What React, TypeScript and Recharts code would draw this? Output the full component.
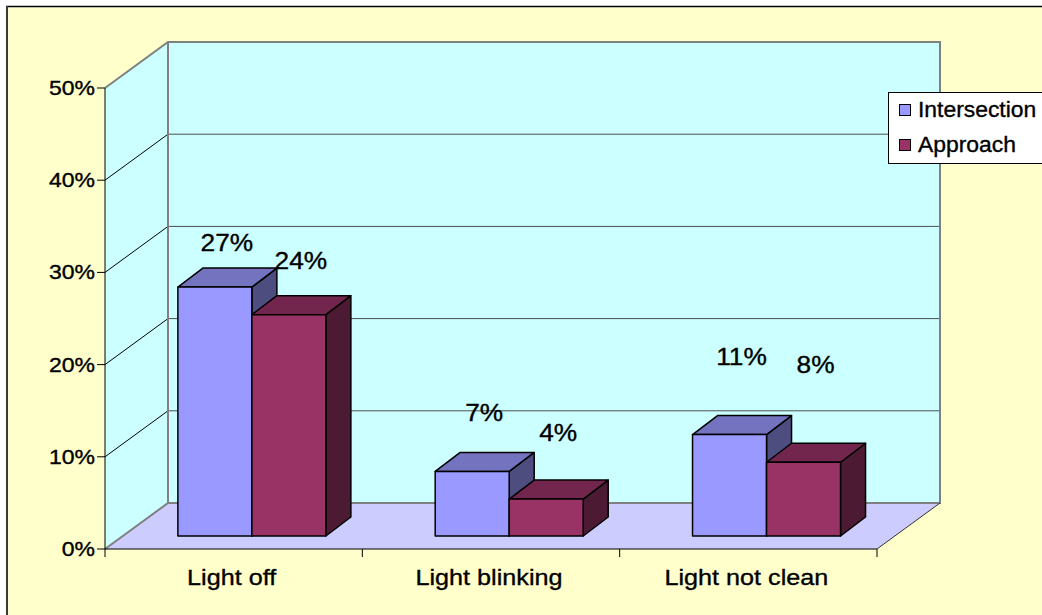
import React from 'react';
import { BarChart, Bar, XAxis, YAxis, Legend, LabelList } from 'recharts';

// share of observed defects per category
const categories = ['Light off', 'Light blinking', 'Light not clean'];
const intersection = [0.27, 0.07, 0.11];
const approach = [0.24, 0.04, 0.08];
const yTicks = [0, 0.1, 0.2, 0.3, 0.4, 0.5];

const data = categories.map((name, i) => ({
    name,
    intersection: intersection[i],
    approach: approach[i],
}));

// layout of the fake-3D box
const W = 1042;
const H = 615;
const PLOT_L = 105;
const PLOT_R = 877;
const PLOT_T = 88;
const PLOT_B = 549;
const Y_MAX = 0.5;
const DEPTH_X = 63;
const DEPTH_Y = -46;
const BAR_SHIFT_X = 17.8;
const BAR_SHIFT_Y = -13;
const BOX_X = 25;
const BOX_Y = -19;

const FONT = '"Liberation Sans", Arial, sans-serif';
// slightly heavier glyphs, like the old GDI rendering
const INK = { fill: '#000', stroke: '#000', strokeWidth: 0.35 };

// how far above the bar each value label floats
const liftIntersection = [45, 59, 78];
const liftApproach = [54, 67, 98];

const yAt = (v: number) => PLOT_B - (v / Y_MAX) * (PLOT_B - PLOT_T);

const SERIES = {
    intersection: { name: 'Intersection', front: '#9999FF', top: '#7373BF', side: '#4D4D80', lift: liftIntersection },
    approach: { name: 'Approach', front: '#993366', top: '#73264D', side: '#4D1A33', lift: liftApproach },
};

function Walls() {
    const bx0 = PLOT_L + DEPTH_X;
    const bx1 = PLOT_R + DEPTH_X;
    const by0 = PLOT_T + DEPTH_Y;
    const by1 = PLOT_B + DEPTH_Y;
    const inner = yTicks.filter((t) => t > 0 && t < Y_MAX);
    return (
        <svg width={W} height={H} style={{ position: 'absolute', left: 0, top: 0 }}>
            <rect x={0} y={0} width={W} height={H} fill="#fff" />
            <rect x={6} y={6} width={W} height={H} fill="#FFFFCC" />
            <line x1={6} y1={6.5} x2={W} y2={6.5} stroke="#000" strokeWidth={1.5} />
            <line x1={7} y1={6} x2={7} y2={H} stroke="#3a3a3a" strokeWidth={2} />

            {/* side wall, back wall, floor */}
            <polygon points={`${PLOT_L},${PLOT_T} ${bx0},${by0} ${bx0},${by1} ${PLOT_L},${PLOT_B}`} fill="#CCFFFF" />
            <rect x={bx0} y={by0} width={bx1 - bx0} height={by1 - by0} fill="#CCFFFF" />
            <polygon points={`${PLOT_L},${PLOT_B} ${bx0},${by1} ${bx1},${by1} ${PLOT_R},${PLOT_B}`} fill="#CCCCFF" />

            {inner.map((t) => (
                <g key={t}>
                    <line x1={bx0} y1={yAt(t) + DEPTH_Y} x2={bx1} y2={yAt(t) + DEPTH_Y} stroke="#4d4d4d" strokeWidth={1} />
                    <line x1={PLOT_L} y1={yAt(t)} x2={bx0} y2={yAt(t) + DEPTH_Y} stroke="#000" strokeWidth={1} />
                </g>
            ))}

            <polyline
                points={`${PLOT_L},${PLOT_T} ${bx0},${by0} ${bx1},${by0} ${bx1},${by1} ${bx0},${by1} ${PLOT_L},${PLOT_B}`}
                fill="none"
                stroke="#808080"
                strokeWidth={2}
            />
            <line x1={bx0} y1={by0} x2={bx0} y2={by1} stroke="#808080" strokeWidth={2} />
            <line x1={PLOT_R} y1={PLOT_B} x2={bx1} y2={by1} stroke="#333" strokeWidth={1} />
        </svg>
    );
}

function Box3D(props: any) {
    const { x, y, width, height, colors } = props;
    if (width == null || height == null) return null;
    const x0 = x + BAR_SHIFT_X;
    const y0 = y + BAR_SHIFT_Y;
    const x1 = x0 + width;
    const y1 = y0 + height;
    const edge = { stroke: '#000', strokeWidth: 1.5, strokeLinejoin: 'round' as const };
    return (
        <g>
            <polygon
                points={`${x1},${y0} ${x1 + BOX_X},${y0 + BOX_Y} ${x1 + BOX_X},${y1 + BOX_Y} ${x1},${y1}`}
                fill={colors.side}
                {...edge}
            />
            <polygon
                points={`${x0},${y0} ${x0 + BOX_X},${y0 + BOX_Y} ${x1 + BOX_X},${y0 + BOX_Y} ${x1},${y0}`}
                fill={colors.top}
                {...edge}
            />
            <rect x={x0} y={y0} width={width} height={height} fill={colors.front} {...edge} />
        </g>
    );
}

function valueLabel(lift: number[]) {
    return (props: any) => {
        const vb = props.viewBox || props;
        const { x, y, width } = vb;
        const i = props.index ?? 0;
        const cx = x + BAR_SHIFT_X + width / 2 + 12;
        const cy = y + BAR_SHIFT_Y - lift[i];
        return (
            <text
                transform={`translate(${cx},${cy}) scale(1.12,1)`}
                textAnchor="middle"
                dominantBaseline="central"
                fontFamily={FONT}
                fontSize={23.5}
                {...INK}
            >
                {`${Math.round(Number(props.value) * 100)}%`}
            </text>
        );
    };
}

function PercentTick(props: any) {
    const { x, y, payload } = props;
    return (
        <text
            transform={`translate(${x},${y}) scale(1.15,1)`}
            textAnchor="end"
            dominantBaseline="central"
            fontFamily={FONT}
            fontSize={20}
            {...INK}
        >
            {`${Math.round(payload.value * 100)}%`}
        </text>
    );
}

function CategoryTick(props: any) {
    const { payload } = props;
    const cx = payload.coordinate;
    const half = payload.offset || (PLOT_R - PLOT_L) / categories.length / 2;
    return (
        <g>
            {payload.index === 0 && <line x1={cx - half} y1={PLOT_B} x2={cx - half} y2={PLOT_B + 8} stroke="#000" />}
            <line x1={cx + half} y1={PLOT_B} x2={cx + half} y2={PLOT_B + 8} stroke="#000" />
            <text
                transform={`translate(${cx - 2},${PLOT_B + 36}) scale(1.12,1)`}
                textAnchor="middle"
                fontFamily={FONT}
                fontSize={22.5}
                {...INK}
            >
                {payload.value}
            </text>
        </g>
    );
}

function LegendBox() {
    const rows = [SERIES.intersection, SERIES.approach];
    return (
        <svg width={170} height={72} style={{ display: 'block' }}>
            <rect x={0.5} y={0.5} width={180} height={71} fill="#fff" stroke="#000" />
            {rows.map((s, i) => {
                const cy = 18 + i * 35;
                return (
                    <g key={s.name}>
                        <rect x={11.5} y={cy - 5.5} width={11} height={11} fill={s.front} stroke="#000" strokeWidth={1} />
                        <text
                            transform={`translate(30,${cy}) scale(1.04,1)`}
                            dominantBaseline="central"
                            fontFamily={FONT}
                            fontSize={22}
                            {...INK}
                        >
                            {s.name}
                        </text>
                    </g>
                );
            })}
        </svg>
    );
}

export default function App() {
    return (
        <div style={{ position: 'fixed', left: 0, top: 0, width: W, height: H, overflow: 'hidden', background: '#fff' }}>
            <Walls />
            <div style={{ position: 'absolute', left: 0, top: 0 }}>
                <BarChart
                    width={W}
                    height={H}
                    data={data}
                    margin={{ top: PLOT_T, right: W - PLOT_R, bottom: 0, left: PLOT_L - 60 }}
                    barCategoryGap="21.4%"
                    barGap={0}
                >
                    <XAxis
                        dataKey="name"
                        height={H - PLOT_B}
                        interval={0}
                        axisLine={{ stroke: '#000', strokeWidth: 1 }}
                        tickLine={false}
                        tick={<CategoryTick />}
                    />
                    <YAxis
                        width={60}
                        domain={[0, Y_MAX]}
                        ticks={yTicks}
                        allowDataOverflow
                        tickSize={8}
                        tickMargin={2}
                        axisLine={{ stroke: '#000', strokeWidth: 1 }}
                        tickLine={{ stroke: '#000' }}
                        tick={<PercentTick />}
                    />
                    <Legend
                        layout="vertical"
                        align="center"
                        verticalAlign="middle"
                        content={<LegendBox />}
                        wrapperStyle={{ left: 888, top: 92, width: 170 }}
                    />
                    <Bar
                        dataKey="intersection"
                        name="Intersection"
                        fill={SERIES.intersection.front}
                        isAnimationActive={false}
                        shape={(p: any) => <Box3D {...p} colors={SERIES.intersection} />}
                    >
                        <LabelList dataKey="intersection" content={valueLabel(SERIES.intersection.lift)} />
                    </Bar>
                    <Bar
                        dataKey="approach"
                        name="Approach"
                        fill={SERIES.approach.front}
                        isAnimationActive={false}
                        shape={(p: any) => <Box3D {...p} colors={SERIES.approach} />}
                    >
                        <LabelList dataKey="approach" content={valueLabel(SERIES.approach.lift)} />
                    </Bar>
                </BarChart>
            </div>
        </div>
    );
}
